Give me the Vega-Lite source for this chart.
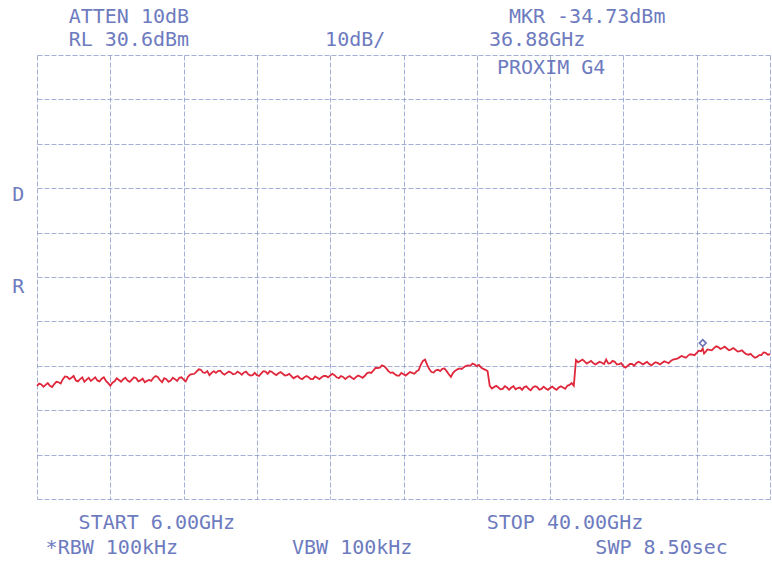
{
  "$schema": "https://vega.github.io/schema/vega-lite/v6.json",
  "width": 733,
  "height": 444,
  "autosize": "none",
  "padding": {"left": 37, "top": 55, "right": 2, "bottom": 64},
  "background": "white",
  "config": {"view": {"stroke": null}},
  "datasets": {
    "trace": [
      {"f":6.0,"dbm":-43.9},{"f":6.2,"dbm":-43.6},{"f":6.4,"dbm":-43.7},{"f":6.6,"dbm":-43.9},{"f":6.8,"dbm":-43.5},
      {"f":7.0,"dbm":-43.1},{"f":7.2,"dbm":-42.4},{"f":7.4,"dbm":-41.9},{"f":7.6,"dbm":-42.1},{"f":7.8,"dbm":-42.7},
      {"f":8.0,"dbm":-42.4},{"f":8.2,"dbm":-43.0},{"f":8.4,"dbm":-42.1},{"f":8.6,"dbm":-42.4},{"f":8.8,"dbm":-42.7},
      {"f":9.0,"dbm":-42.3},{"f":9.2,"dbm":-42.8},{"f":9.4,"dbm":-43.9},{"f":9.6,"dbm":-42.9},{"f":9.8,"dbm":-42.6},
      {"f":10.0,"dbm":-42.4},{"f":10.2,"dbm":-42.7},{"f":10.4,"dbm":-42.5},{"f":10.6,"dbm":-42.2},{"f":10.8,"dbm":-42.7},
      {"f":11.0,"dbm":-43.1},{"f":11.2,"dbm":-42.6},{"f":11.4,"dbm":-42.1},{"f":11.6,"dbm":-41.9},{"f":11.8,"dbm":-43.1},
      {"f":12.0,"dbm":-42.4},{"f":12.2,"dbm":-42.7},{"f":12.4,"dbm":-42.4},{"f":12.6,"dbm":-42.1},{"f":12.8,"dbm":-42.5},
      {"f":13.0,"dbm":-41.9},{"f":13.2,"dbm":-41.3},{"f":13.4,"dbm":-40.7},{"f":13.6,"dbm":-40.3},{"f":13.8,"dbm":-41.0},
      {"f":14.0,"dbm":-41.5},{"f":14.2,"dbm":-40.6},{"f":14.4,"dbm":-40.6},{"f":14.6,"dbm":-41.1},{"f":14.8,"dbm":-41.0},
      {"f":15.0,"dbm":-40.9},{"f":15.2,"dbm":-41.2},{"f":15.4,"dbm":-41.0},{"f":15.6,"dbm":-40.9},{"f":15.8,"dbm":-41.3},
      {"f":16.0,"dbm":-41.5},{"f":16.2,"dbm":-41.5},{"f":16.4,"dbm":-41.1},{"f":16.6,"dbm":-40.7},{"f":16.8,"dbm":-40.6},
      {"f":17.0,"dbm":-41.2},{"f":17.2,"dbm":-41.1},{"f":17.4,"dbm":-41.2},{"f":17.6,"dbm":-41.5},{"f":17.8,"dbm":-41.7},
      {"f":18.0,"dbm":-41.9},{"f":18.2,"dbm":-42.2},{"f":18.4,"dbm":-42.0},{"f":18.6,"dbm":-42.0},{"f":18.8,"dbm":-42.4},
      {"f":19.0,"dbm":-42.1},{"f":19.2,"dbm":-42.0},{"f":19.4,"dbm":-41.7},{"f":19.6,"dbm":-41.6},{"f":19.8,"dbm":-41.5},
      {"f":20.0,"dbm":-42.2},{"f":20.2,"dbm":-41.9},{"f":20.4,"dbm":-42.0},{"f":20.6,"dbm":-42.1},{"f":20.8,"dbm":-41.9},
      {"f":21.0,"dbm":-41.8},{"f":21.2,"dbm":-41.7},{"f":21.4,"dbm":-40.9},{"f":21.6,"dbm":-40.5},{"f":21.8,"dbm":-39.9},
      {"f":22.0,"dbm":-39.3},{"f":22.2,"dbm":-40.0},{"f":22.4,"dbm":-41.0},{"f":22.6,"dbm":-41.3},{"f":22.8,"dbm":-41.6},
      {"f":23.0,"dbm":-41.3},{"f":23.2,"dbm":-41.2},{"f":23.4,"dbm":-41.0},{"f":23.6,"dbm":-40.7},{"f":23.8,"dbm":-39.2},
      {"f":24.0,"dbm":-38.0},{"f":24.2,"dbm":-40.2},{"f":24.4,"dbm":-40.9},{"f":24.6,"dbm":-40.3},{"f":24.8,"dbm":-40.1},
      {"f":25.0,"dbm":-40.6},{"f":25.2,"dbm":-41.9},{"f":25.4,"dbm":-40.5},{"f":25.6,"dbm":-40.0},{"f":25.8,"dbm":-39.7},
      {"f":26.0,"dbm":-39.3},{"f":26.2,"dbm":-38.9},{"f":26.4,"dbm":-39.5},{"f":26.6,"dbm":-39.8},{"f":26.8,"dbm":-40.3},
      {"f":27.0,"dbm":-43.9},{"f":27.2,"dbm":-44.2},{"f":27.4,"dbm":-44.3},{"f":27.6,"dbm":-44.6},{"f":27.8,"dbm":-44.3},
      {"f":28.0,"dbm":-44.3},{"f":28.2,"dbm":-44.7},{"f":28.4,"dbm":-44.3},{"f":28.6,"dbm":-44.2},{"f":28.8,"dbm":-44.6},
      {"f":29.0,"dbm":-44.3},{"f":29.2,"dbm":-44.2},{"f":29.4,"dbm":-44.6},{"f":29.6,"dbm":-44.5},{"f":29.8,"dbm":-44.4},
      {"f":30.0,"dbm":-44.5},{"f":30.2,"dbm":-44.3},{"f":30.4,"dbm":-44.3},{"f":30.6,"dbm":-43.9},{"f":30.8,"dbm":-43.3},
      {"f":30.9,"dbm":-43.9},{"f":31.0,"dbm":-38.1},{"f":31.2,"dbm":-38.3},{"f":31.4,"dbm":-38.4},{"f":31.6,"dbm":-38.6},
      {"f":31.8,"dbm":-38.8},{"f":32.0,"dbm":-38.8},{"f":32.2,"dbm":-38.7},{"f":32.4,"dbm":-38.0},{"f":32.6,"dbm":-38.8},
      {"f":32.8,"dbm":-38.5},{"f":33.0,"dbm":-39.0},{"f":33.2,"dbm":-39.5},{"f":33.4,"dbm":-39.4},{"f":33.6,"dbm":-39.0},
      {"f":33.8,"dbm":-38.8},{"f":34.0,"dbm":-38.7},{"f":34.2,"dbm":-38.8},{"f":34.4,"dbm":-39.0},{"f":34.6,"dbm":-38.9},
      {"f":34.8,"dbm":-38.8},{"f":35.0,"dbm":-38.7},{"f":35.2,"dbm":-38.6},{"f":35.4,"dbm":-38.3},{"f":35.6,"dbm":-37.9},
      {"f":35.8,"dbm":-37.5},{"f":36.0,"dbm":-37.4},{"f":36.2,"dbm":-37.1},{"f":36.4,"dbm":-36.9},{"f":36.6,"dbm":-36.5},
      {"f":36.8,"dbm":-36.1},{"f":36.88,"dbm":-35.5},{"f":37.0,"dbm":-36.3},{"f":37.2,"dbm":-35.8},{"f":37.4,"dbm":-35.4},
      {"f":37.6,"dbm":-35.2},{"f":37.8,"dbm":-35.4},{"f":38.0,"dbm":-35.5},{"f":38.2,"dbm":-35.7},{"f":38.4,"dbm":-35.8},
      {"f":38.6,"dbm":-36.1},{"f":38.8,"dbm":-36.4},{"f":39.0,"dbm":-36.9},{"f":39.2,"dbm":-37.2},{"f":39.4,"dbm":-37.4},
      {"f":39.6,"dbm":-37.0},{"f":39.8,"dbm":-36.5},{"f":40.0,"dbm":-36.8},
      {"f":6.1,"dbm":-43.4},{"f":6.3,"dbm":-44.1},{"f":6.5,"dbm":-43.3},{"f":6.7,"dbm":-44.2},{"f":6.9,"dbm":-43.0},
      {"f":7.1,"dbm":-43.4},{"f":7.3,"dbm":-41.8},{"f":7.5,"dbm":-42.4},{"f":7.7,"dbm":-41.7},{"f":7.9,"dbm":-42.9},
      {"f":8.1,"dbm":-42.0},{"f":8.3,"dbm":-42.5},{"f":8.5,"dbm":-42.8},{"f":8.7,"dbm":-42.0},{"f":8.9,"dbm":-42.9},
      {"f":9.1,"dbm":-42.0},{"f":9.3,"dbm":-43.3},{"f":9.5,"dbm":-43.2},{"f":9.7,"dbm":-42.2},{"f":9.9,"dbm":-43.0},
      {"f":10.1,"dbm":-42.1},{"f":10.3,"dbm":-43.0},{"f":10.5,"dbm":-42.0},{"f":10.7,"dbm":-42.9},{"f":10.9,"dbm":-42.3},
      {"f":11.1,"dbm":-42.8},{"f":11.3,"dbm":-42.8},{"f":11.5,"dbm":-41.7},{"f":11.7,"dbm":-42.6},{"f":11.9,"dbm":-42.2},
      {"f":12.1,"dbm":-43.0},{"f":12.3,"dbm":-42.1},{"f":12.5,"dbm":-42.8},{"f":12.7,"dbm":-42.0},{"f":12.9,"dbm":-42.9},
      {"f":13.1,"dbm":-41.4},{"f":13.3,"dbm":-41.2},{"f":13.5,"dbm":-40.2},{"f":13.7,"dbm":-40.9},{"f":13.9,"dbm":-40.6},
      {"f":14.1,"dbm":-41.0},{"f":14.3,"dbm":-41.0},{"f":14.5,"dbm":-40.5},{"f":14.7,"dbm":-41.4},{"f":14.9,"dbm":-40.7},
      {"f":15.1,"dbm":-41.3},{"f":15.3,"dbm":-40.7},{"f":15.5,"dbm":-41.4},{"f":15.7,"dbm":-40.7},{"f":15.9,"dbm":-41.6},
      {"f":16.1,"dbm":-41.0},{"f":16.3,"dbm":-41.7},{"f":16.5,"dbm":-40.6},{"f":16.7,"dbm":-41.2},{"f":16.9,"dbm":-40.8},
      {"f":17.1,"dbm":-41.5},{"f":17.3,"dbm":-40.8},{"f":17.5,"dbm":-41.6},{"f":17.7,"dbm":-41.2},{"f":17.9,"dbm":-42.2},
      {"f":18.1,"dbm":-41.7},{"f":18.3,"dbm":-42.4},{"f":18.5,"dbm":-41.7},{"f":18.7,"dbm":-42.4},{"f":18.9,"dbm":-41.8},
      {"f":19.1,"dbm":-42.4},{"f":19.3,"dbm":-41.7},{"f":19.5,"dbm":-42.0},{"f":19.7,"dbm":-41.2},{"f":19.9,"dbm":-42.0},
      {"f":20.1,"dbm":-41.7},{"f":20.3,"dbm":-42.4},{"f":20.5,"dbm":-41.7},{"f":20.7,"dbm":-42.4},{"f":20.9,"dbm":-41.6},
      {"f":21.1,"dbm":-42.1},{"f":21.3,"dbm":-41.1},{"f":21.5,"dbm":-41.0},{"f":21.7,"dbm":-39.9},{"f":21.9,"dbm":-39.8},
      {"f":22.1,"dbm":-39.5},{"f":22.3,"dbm":-40.6},{"f":22.5,"dbm":-40.9},{"f":22.7,"dbm":-41.6},{"f":22.9,"dbm":-41.0},
      {"f":23.1,"dbm":-41.6},{"f":23.3,"dbm":-40.8},{"f":23.5,"dbm":-41.2},{"f":23.7,"dbm":-40.4},{"f":23.9,"dbm":-38.3},
      {"f":24.1,"dbm":-39.2},{"f":24.3,"dbm":-40.8},{"f":24.5,"dbm":-40.4},{"f":24.7,"dbm":-40.6},{"f":24.9,"dbm":-40.0},
      {"f":25.1,"dbm":-41.3},{"f":25.3,"dbm":-41.0},{"f":25.5,"dbm":-40.2},{"f":25.7,"dbm":-40.1},{"f":25.9,"dbm":-39.4},
      {"f":26.1,"dbm":-39.4},{"f":26.3,"dbm":-39.1},{"f":26.5,"dbm":-39.2},{"f":26.7,"dbm":-40.1},{"f":26.9,"dbm":-40.6},
      {"f":27.1,"dbm":-44.5},{"f":27.3,"dbm":-43.9},{"f":27.5,"dbm":-44.7},{"f":27.7,"dbm":-44.0},{"f":27.9,"dbm":-44.8},
      {"f":28.1,"dbm":-44.0},{"f":28.3,"dbm":-44.4},{"f":28.5,"dbm":-44.8},{"f":28.7,"dbm":-44.0},{"f":28.9,"dbm":-44.9},
      {"f":29.1,"dbm":-44.0},{"f":29.3,"dbm":-44.8},{"f":29.5,"dbm":-44.1},{"f":29.7,"dbm":-44.8},{"f":29.9,"dbm":-44.1},
      {"f":30.1,"dbm":-44.8},{"f":30.3,"dbm":-44.0},{"f":30.5,"dbm":-44.6},{"f":30.7,"dbm":-43.7},
      {"f":31.1,"dbm":-38.6},{"f":31.3,"dbm":-38.0},{"f":31.5,"dbm":-38.9},{"f":31.7,"dbm":-38.3},{"f":31.9,"dbm":-39.1},
      {"f":32.1,"dbm":-38.5},{"f":32.3,"dbm":-39.0},{"f":32.5,"dbm":-38.9},{"f":32.7,"dbm":-38.3},{"f":32.9,"dbm":-39.1},
      {"f":33.1,"dbm":-38.8},{"f":33.3,"dbm":-39.8},{"f":33.5,"dbm":-39.0},{"f":33.7,"dbm":-39.4},{"f":33.9,"dbm":-38.5},
      {"f":34.1,"dbm":-39.1},{"f":34.3,"dbm":-38.5},{"f":34.5,"dbm":-39.3},{"f":34.7,"dbm":-38.6},{"f":34.9,"dbm":-39.1},
      {"f":35.1,"dbm":-38.4},{"f":35.3,"dbm":-38.8},{"f":35.5,"dbm":-38.0},{"f":35.7,"dbm":-37.8},{"f":35.9,"dbm":-37.2},
      {"f":36.1,"dbm":-37.6},{"f":36.3,"dbm":-36.8},{"f":36.5,"dbm":-37.0},{"f":36.7,"dbm":-36.0},{"f":36.94,"dbm":-36.6},
      {"f":37.1,"dbm":-35.7},{"f":37.3,"dbm":-35.9},{"f":37.5,"dbm":-35.0},{"f":37.7,"dbm":-35.6},{"f":37.9,"dbm":-35.1},
      {"f":38.1,"dbm":-35.9},{"f":38.3,"dbm":-35.4},{"f":38.5,"dbm":-36.2},{"f":38.7,"dbm":-35.9},{"f":38.9,"dbm":-36.8},
      {"f":39.1,"dbm":-36.7},{"f":39.3,"dbm":-37.6},{"f":39.5,"dbm":-37.0},{"f":39.7,"dbm":-36.4},{"f":39.9,"dbm":-36.9}
    ],
    "marker": [{"f": 36.88, "dbm": -34.73}],
    "labels": [
      {"f": 10.26, "dbm": 39.16, "t": "ATTEN 10dB"},
      {"f": 10.26, "dbm": 33.98, "t": "RL 30.6dBm"},
      {"f": 20.76, "dbm": 33.98, "t": "10dB/"},
      {"f": 31.52, "dbm": 39.16, "t": "MKR -34.73dBm"},
      {"f": 29.20, "dbm": 33.98, "t": "36.88GHz"},
      {"f": 29.85, "dbm": 27.67, "t": "PROXIM G4"},
      {"f": 11.56, "dbm": -74.81, "t": "START 6.00GHz"},
      {"f": 30.49, "dbm": -74.81, "t": "STOP 40.00GHz"},
      {"f": 9.47, "dbm": -80.44, "t": "*RBW 100kHz"},
      {"f": 20.62, "dbm": -80.44, "t": "VBW 100kHz"},
      {"f": 34.97, "dbm": -80.44, "t": "SWP 8.50sec"},
      {"f": 5.13, "dbm": -0.93, "t": "D"},
      {"f": 5.13, "dbm": -21.66, "t": "R"}
    ]
  },
  "layer": [
    {
      "data": {"name": "trace"},
      "mark": {"type": "line", "color": "#e0283c", "strokeWidth": 1.8, "interpolate": "linear"},
      "encoding": {
        "x": {
          "field": "f", "type": "quantitative",
          "scale": {"domain": [6, 40], "nice": false, "zero": false},
          "axis": {
            "values": [6, 9.4, 12.8, 16.2, 19.6, 23, 26.4, 29.8, 33.2, 36.6, 40],
            "labels": false, "ticks": false, "domain": false, "title": null,
            "grid": true, "gridColor": "#8795c8", "gridDash": [5, 2], "gridWidth": 1, "gridOpacity": 0.75
          }
        },
        "y": {
          "field": "dbm", "type": "quantitative",
          "scale": {"domain": [-69.4, 30.6], "nice": false, "zero": false},
          "axis": {
            "values": [-69.4, -59.4, -49.4, -39.4, -29.4, -19.4, -9.4, 0.6, 10.6, 20.6, 30.6],
            "labels": false, "ticks": false, "domain": false, "title": null,
            "grid": true, "gridColor": "#8795c8", "gridDash": [5, 2], "gridWidth": 1, "gridOpacity": 0.75
          }
        }
      }
    },
    {
      "data": {"name": "marker"},
      "mark": {"type": "point", "shape": "diamond", "filled": false, "color": "#2b3a9c", "size": 45, "strokeWidth": 1.6, "yOffset": -2},
      "encoding": {
        "x": {"field": "f", "type": "quantitative"},
        "y": {"field": "dbm", "type": "quantitative"}
      }
    },
    {
      "data": {"name": "labels"},
      "mark": {"type": "text", "font": "DejaVu Sans Mono", "fontSize": 20, "color": "#5464b4", "align": "center", "baseline": "middle", "opacity": 0.85},
      "encoding": {
        "x": {"field": "f", "type": "quantitative"},
        "y": {"field": "dbm", "type": "quantitative"},
        "text": {"field": "t"}
      }
    }
  ]
}
